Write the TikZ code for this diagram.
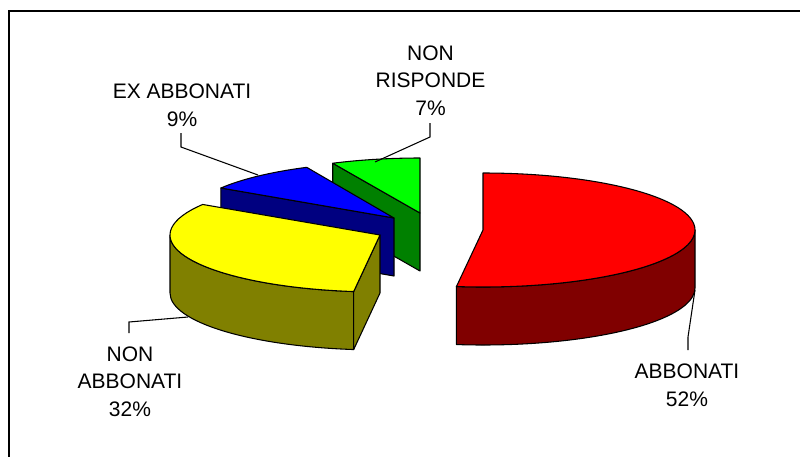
\documentclass[tikz,border=0pt]{standalone}
\usepackage{fontspec}
\setmainfont{Liberation Sans}
\usetikzlibrary{calc}
\definecolor{redtop}{RGB}{255,0,0}
\definecolor{redside}{RGB}{128,0,0}
\definecolor{yeltop}{RGB}{255,255,0}
\definecolor{yelside}{RGB}{128,128,0}
\definecolor{bluetop}{RGB}{0,0,255}
\definecolor{blueside}{RGB}{0,0,128}
\definecolor{greentop}{RGB}{0,255,0}
\definecolor{greenside}{RGB}{0,128,0}
\begin{document}
\begin{tikzpicture}[x=0.75pt,y=-0.75pt,
  face/.style={draw=black, line width=0.8pt, line join=round},
  lbl/.style={font=\fontsize{15.75}{20.5}\selectfont, align=center, anchor=base, inner sep=0pt},
  leader/.style={draw=black, line width=0.8pt}]
\useasboundingbox (0,0) rectangle (800,457);
\fill[white] (0,0) rectangle (800,457);
\draw[line width=1.5pt] (9,457) -- (9,11) -- (800,11);

% green slice (NON RISPONDE)
\coordinate (gc) at (420,213);
\path[face, fill=greenside] (gc) -- ++(-115.2:205 and 55) -- ++(0,58) -- ($(gc)+(0,58)$) -- cycle;
\path[face, fill=greentop] (gc) -- ++(-115.2:205 and 55)
  arc[start angle=-115.2, end angle=-90, x radius=205, y radius=55] -- cycle;

% blue slice (EX ABBONATI)
\coordinate (bc) at (394,218);
\path[face, fill=blueside] (bc) -- ++(-147.6:205 and 56) -- ++(0,58) -- ($(bc)+(0,58)$) -- cycle;
\path[face, fill=bluetop] (bc) -- ++(-147.6:205 and 56)
  arc[start angle=-147.6, end angle=-115.2, x radius=205, y radius=56] -- cycle;

% yellow slice (NON ABBONATI)
\coordinate (yc) at (380,235);
\path[face, fill=yelside] ($(yc)+(180:210 and 57)$)
  arc[start angle=180, end angle=97.2, x radius=210, y radius=57] -- ++(0,58)
  arc[start angle=97.2, end angle=180, x radius=210, y radius=57] -- cycle;
\path[face, fill=yelside] (yc) -- ++(97.2:210 and 57) -- ++(0,58) -- ($(yc)+(0,58)$) -- cycle;
\path[face, fill=yeltop] (yc) -- ++(97.2:210 and 57)
  arc[start angle=97.2, end angle=212.4, x radius=210, y radius=57] -- cycle;

% red slice (ABBONATI)
\coordinate (rc) at (483,230);
\path[face, fill=redside] ($(rc)+(0:212 and 57)$)
  arc[start angle=0, end angle=97.2, x radius=212, y radius=57] -- ++(0,58)
  arc[start angle=97.2, end angle=0, x radius=212, y radius=57] -- cycle;
\path[face, fill=redtop] (rc) -- ++(-90:212 and 57)
  arc[start angle=-90, end angle=97.2, x radius=212, y radius=57] -- cycle;

% labels (anchored at the baseline of their last line)
\node[lbl] (lnr) at (430.5,115) {NON\\RISPONDE\\7\%};
\node[lbl] (lex) at (182,126) {EX ABBONATI\\9\%};
\node[lbl] (lna) at (130,416) {NON\\ABBONATI\\32\%};
\node[lbl] (lab) at (687,406) {ABBONATI\\52\%};

% leaders
\coordinate (nr1) at (430,123); \coordinate (nr2) at (430,137); \coordinate (nr3) at (375,162);
\coordinate (ex1) at (181,133); \coordinate (ex2) at (181,147); \coordinate (ex3) at (258,175);
\coordinate (na1) at (129,333); \coordinate (na2) at (129,322); \coordinate (na3) at (188,317);
\coordinate (ab1) at (688,350); \coordinate (ab2) at (688,337); \coordinate (ab3) at (695,290);
\draw[leader] (nr1) -- (nr2) -- (nr3);
\draw[leader] (ex1) -- (ex2) -- (ex3);
\draw[leader] (na1) -- (na2) -- (na3);
\draw[leader] (ab1) -- (ab2) -- (ab3);
\end{tikzpicture}
\end{document}
